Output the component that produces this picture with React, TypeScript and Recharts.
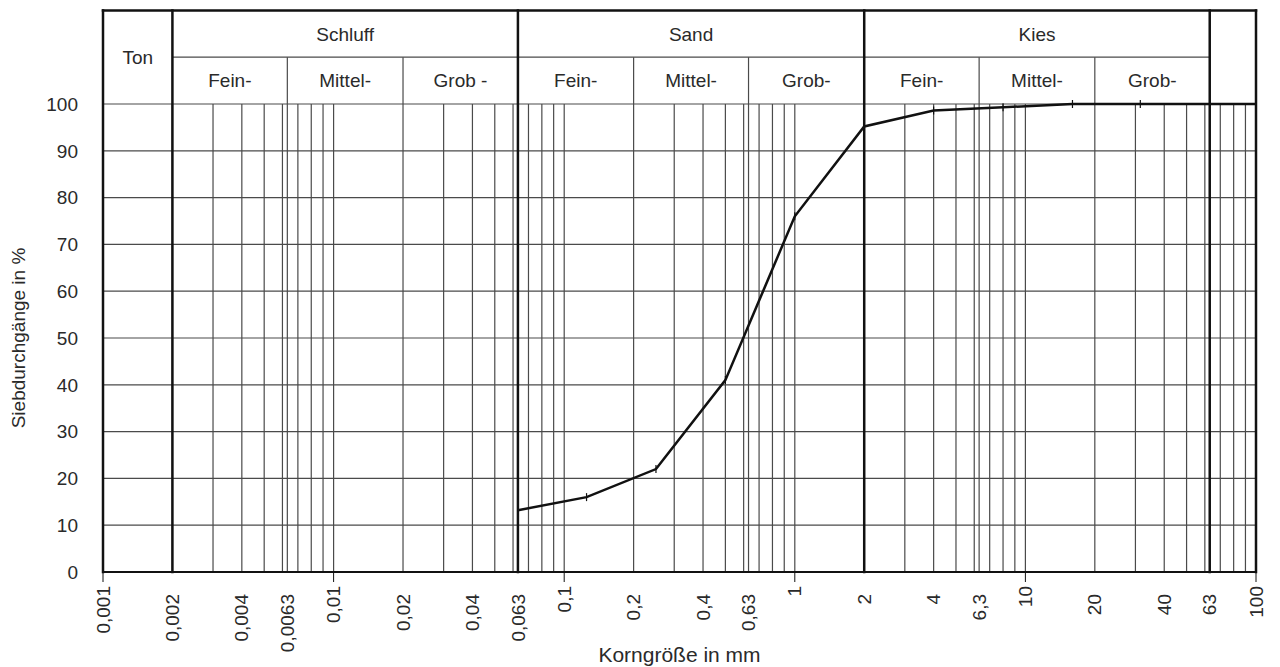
import React from 'react';
import {
  LineChart,
  Line,
  XAxis,
  YAxis,
  CartesianGrid,
  ReferenceLine,
  ReferenceArea,
} from 'recharts';

// sieve analysis (Korngröße in mm / Siebdurchgang in %)
const sieveSizes = [0.063, 0.125, 0.25, 0.5, 1, 2, 4, 8, 16, 31.5, 63, 100];
const passing = [13.2, 16, 22, 41, 76, 95.2, 98.6, 99.3, 100, 100, 100, 100];

// labelled ticks on the x axis
const xLabelValues = [
  0.001, 0.002, 0.004, 0.0063, 0.01, 0.02, 0.04, 0.063, 0.1, 0.2, 0.4, 0.63,
  1, 2, 4, 6.3, 10, 20, 40, 63, 100,
];
const xLabelTexts = [
  '0,001', '0,002', '0,004', '0,0063', '0,01', '0,02', '0,04', '0,063', '0,1',
  '0,2', '0,4', '0,63', '1', '2', '4', '6,3', '10', '20', '40', '63', '100',
];
const decades = [0.001, 0.01, 0.1, 1, 10, 100];
const gridMultipliers = [1, 2, 3, 4, 5, 6, 6.3, 7, 8, 9];
const yTicks = [0, 10, 20, 30, 40, 50, 60, 70, 80, 90, 100];

// grain size classes
const mainBounds = [0.001, 0.002, 0.063, 2, 63, 100];
const mainClasses = [
  { name: 'Ton', x1: 0.001, x2: 0.002, full: true },
  { name: 'Schluff', x1: 0.002, x2: 0.063, full: false },
  { name: 'Sand', x1: 0.063, x2: 2, full: false },
  { name: 'Kies', x1: 2, x2: 63, full: false },
];
const subBounds = [0.0063, 0.02, 0.2, 0.63, 6.3, 20];
const subClasses = [
  { name: 'Fein-', x1: 0.002, x2: 0.0063 },
  { name: 'Mittel-', x1: 0.0063, x2: 0.02 },
  { name: 'Grob -', x1: 0.02, x2: 0.063 },
  { name: 'Fein-', x1: 0.063, x2: 0.2 },
  { name: 'Mittel-', x1: 0.2, x2: 0.63 },
  { name: 'Grob-', x1: 0.63, x2: 2 },
  { name: 'Fein-', x1: 2, x2: 6.3 },
  { name: 'Mittel-', x1: 6.3, x2: 20 },
  { name: 'Grob-', x1: 20, x2: 63 },
];

const gridTicks = [
  ...decades.slice(0, -1).flatMap((d) => gridMultipliers.map((m) => +(d * m).toPrecision(6))),
  100,
];

const data = sieveSizes.map((size, i) => ({ size, passing: passing[i] }));

const FONT = '"Liberation Sans", Arial, sans-serif';
const TEXT = '#2a2a2a';
const GRID = '#4a4a4a';
const BOLD = '#111';

const same = (a: number, b: number) => Math.abs(a - b) / b < 1e-6;

const XTick = (props: any) => {
  const { x, y, payload } = props;
  const v = payload.value;
  const idx = xLabelValues.findIndex((l) => same(l, v));
  const isDecade = decades.some((d) => same(d, v));
  return (
    <g transform={`translate(${x},${y})`}>
      {isDecade && <line x1={0} x2={0} y1={0} y2={10} stroke={BOLD} strokeWidth={1} />}
      {idx >= 0 && (
        <text
          transform={`translate(0,${isDecade ? 14 : 22}) rotate(-90)`}
          textAnchor="end"
          dy="0.35em"
          fontSize={19}
          fontFamily={FONT}
          fill={TEXT}
        >
          {xLabelTexts[idx]}
        </text>
      )}
    </g>
  );
};

const SieveMark = (props: any) => {
  const { cx, cy } = props;
  if (cx == null || cy == null) return null;
  return <line x1={cx} x2={cx} y1={cy - 4} y2={cy + 4} stroke={BOLD} strokeWidth={1.2} />;
};

export default function App() {
  return (
    <div style={{ width: 1264, height: 659, fontFamily: FONT }}>
      <LineChart
        width={1264}
        height={659}
        data={data}
        margin={{ top: 96, right: 16, left: 0, bottom: 2 }}
      >
        <CartesianGrid stroke={GRID} strokeWidth={1.2} />
        <XAxis
          dataKey="size"
          type="number"
          scale="log"
          domain={[0.001, 100]}
          allowDataOverflow
          ticks={gridTicks}
          interval={0}
          tick={<XTick />}
          tickLine={false}
          tickSize={0}
          tickMargin={0}
          height={93}
          axisLine={{ stroke: BOLD, strokeWidth: 2 }}
          label={{
            value: 'Korngröße in mm',
            position: 'insideBottom',
            offset: 3,
            style: { fontSize: 21, fill: TEXT, fontFamily: FONT },
          }}
        />
        <YAxis
          type="number"
          domain={[0, 100]}
          ticks={yTicks}
          interval={0}
          width={95}
          tickLine={false}
          axisLine={false}
          tickSize={0}
          tickMargin={25}
          tick={{ fontSize: 19, fill: TEXT, fontFamily: FONT }}
          label={{
            value: 'Siebdurchgänge in %',
            angle: -90,
            position: 'insideLeft',
            offset: 10,
            style: { textAnchor: 'middle', fontSize: 19, fill: TEXT, fontFamily: FONT },
          }}
        />

        {subBounds.map((b) => (
          <ReferenceLine
            key={`sub-${b}`}
            segment={[{ x: b, y: 100 }, { x: b, y: 110 }]}
            stroke={GRID}
            strokeWidth={1.2}
            ifOverflow="visible"
          />
        ))}
        <ReferenceLine
          segment={[{ x: 0.002, y: 110 }, { x: 63, y: 110 }]}
          stroke={GRID}
          strokeWidth={1.2}
          ifOverflow="visible"
        />
        <ReferenceLine
          segment={[{ x: 0.001, y: 120 }, { x: 100, y: 120 }]}
          stroke={BOLD}
          strokeWidth={2.5}
          strokeLinecap="square"
          ifOverflow="visible"
        />
        {mainBounds.map((b) => (
          <ReferenceLine
            key={`main-${b}`}
            segment={[{ x: b, y: 0 }, { x: b, y: 120 }]}
            stroke={BOLD}
            strokeWidth={2.5}
            strokeLinecap="square"
            ifOverflow="visible"
          />
        ))}

        {mainClasses.map((c) => (
          <ReferenceArea
            key={c.name}
            x1={c.x1}
            x2={c.x2}
            y1={c.full ? 100 : 110}
            y2={120}
            fill="none"
            stroke="none"
            ifOverflow="visible"
            label={{ value: c.name, position: 'center', fontSize: 19, fill: TEXT, fontFamily: FONT }}
          />
        ))}
        {subClasses.map((c) => (
          <ReferenceArea
            key={`${c.name}-${c.x1}`}
            x1={c.x1}
            x2={c.x2}
            y1={100}
            y2={110}
            fill="none"
            stroke="none"
            ifOverflow="visible"
            label={{ value: c.name, position: 'center', fontSize: 19, fill: TEXT, fontFamily: FONT }}
          />
        ))}

        <Line
          type="linear"
          dataKey="passing"
          stroke={BOLD}
          strokeWidth={2.5}
          dot={<SieveMark />}
          activeDot={false}
          isAnimationActive={false}
        />
      </LineChart>
    </div>
  );
}
